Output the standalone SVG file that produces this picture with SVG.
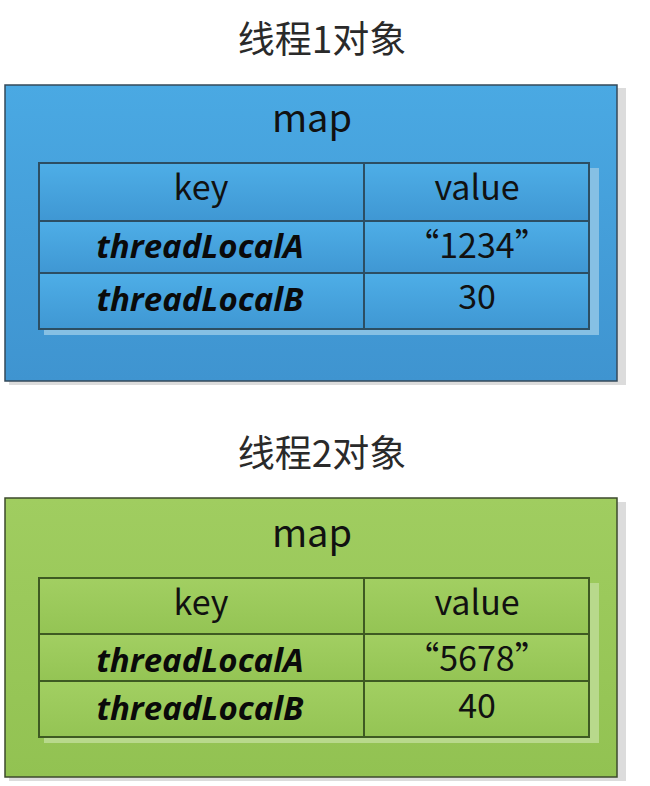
<svg xmlns="http://www.w3.org/2000/svg" width="650" height="786" viewBox="0 0 650 786">
<defs>
<linearGradient id="gBlue" x1="0" y1="0" x2="0" y2="1">
<stop offset="0" stop-color="#4aa9e3"/>
<stop offset="1" stop-color="#3f94d0"/>
</linearGradient>
<linearGradient id="gGreen" x1="0" y1="0" x2="0" y2="1">
<stop offset="0" stop-color="#a0cd60"/>
<stop offset="1" stop-color="#92c252"/>
</linearGradient>
<linearGradient id="cBlue" x1="0" y1="0" x2="0" y2="1">
<stop offset="0" stop-color="#4eaee7"/>
<stop offset="1" stop-color="#3f97d3"/>
</linearGradient>
<linearGradient id="cGreen" x1="0" y1="0" x2="0" y2="1">
<stop offset="0" stop-color="#a2cf62"/>
<stop offset="1" stop-color="#94c454"/>
</linearGradient>
</defs>
<style>
.title{font-family:"Noto Sans CJK SC","Noto Sans",sans-serif;font-size:37px;fill:#2a2a2a;text-anchor:middle}
.map{font-family:"Noto Sans CJK SC","Noto Sans",sans-serif;font-size:38px;fill:#111;text-anchor:middle}
.hd{font-family:"Noto Sans CJK SC","Noto Sans",sans-serif;font-size:34px;fill:#111;text-anchor:middle}
.k{font-family:"Open Sans","Noto Sans",sans-serif;font-size:33px;font-weight:bold;font-style:italic;fill:#0a0a0a;text-anchor:middle}
.v{font-family:"Noto Sans CJK SC","Noto Sans",sans-serif;font-size:34px;fill:#111;text-anchor:middle}
.boxShadow{fill:#dcdcdc}
.tblShadowB{fill:#86c0e4}
.tblShadowG{fill:#b8d98c}
.lineB{stroke:#2c4e63;stroke-width:2;fill:none}
.lineG{stroke:#3e5a22;stroke-width:2;fill:none}
</style>

<g id="thread1">
<text class="title" x="322" y="53">线程1对象</text>
<rect class="boxShadow" x="9" y="88" width="617" height="297"/>
<rect x="5" y="85" width="612" height="296" fill="url(#gBlue)" stroke="#34495a" stroke-width="1.5"/>
<text class="map" x="312" y="132">map</text>
<g id="table1">
<rect class="tblShadowB" x="44" y="168" width="555" height="167"/>
<rect x="39" y="163" width="550" height="58" fill="url(#cBlue)"/>
<rect x="39" y="221" width="550" height="52" fill="url(#cBlue)"/>
<rect x="39" y="273" width="550" height="56" fill="url(#cBlue)"/>
<rect class="lineB" x="39" y="163" width="550" height="166"/>
<line class="lineB" x1="39" y1="221" x2="589" y2="221"/>
<line class="lineB" x1="39" y1="273" x2="589" y2="273"/>
<line class="lineB" x1="364" y1="163" x2="364" y2="329"/>
<text class="hd" x="201" y="200">key</text>
<text class="hd" x="477" y="200">value</text>
<text class="k" x="200" y="258">threadLocalA</text>
<text class="v" x="477" y="258">“1234”</text>
<text class="k" x="200" y="311">threadLocalB</text>
<text class="v" x="477" y="309">30</text>
</g>
</g>

<g id="thread2">
<text class="title" x="322" y="467">线程2对象</text>
<rect class="boxShadow" x="9" y="502" width="617" height="279"/>
<rect x="5" y="498" width="612" height="279" fill="url(#gGreen)" stroke="#3c4a2c" stroke-width="1.5"/>
<text class="map" x="312" y="547">map</text>
<g id="table2">
<rect class="tblShadowG" x="44" y="583" width="555" height="160"/>
<rect x="39" y="578" width="550" height="56" fill="url(#cGreen)"/>
<rect x="39" y="634" width="550" height="47" fill="url(#cGreen)"/>
<rect x="39" y="681" width="550" height="56" fill="url(#cGreen)"/>
<rect class="lineG" x="39" y="578" width="550" height="159"/>
<line class="lineG" x1="39" y1="634" x2="589" y2="634"/>
<line class="lineG" x1="39" y1="681" x2="589" y2="681"/>
<line class="lineG" x1="364" y1="578" x2="364" y2="737"/>
<text class="hd" x="201" y="615">key</text>
<text class="hd" x="477" y="615">value</text>
<text class="k" x="200" y="672">threadLocalA</text>
<text class="v" x="477" y="671">“5678”</text>
<text class="k" x="200" y="720">threadLocalB</text>
<text class="v" x="477" y="718">40</text>
</g>
</g>
</svg>
